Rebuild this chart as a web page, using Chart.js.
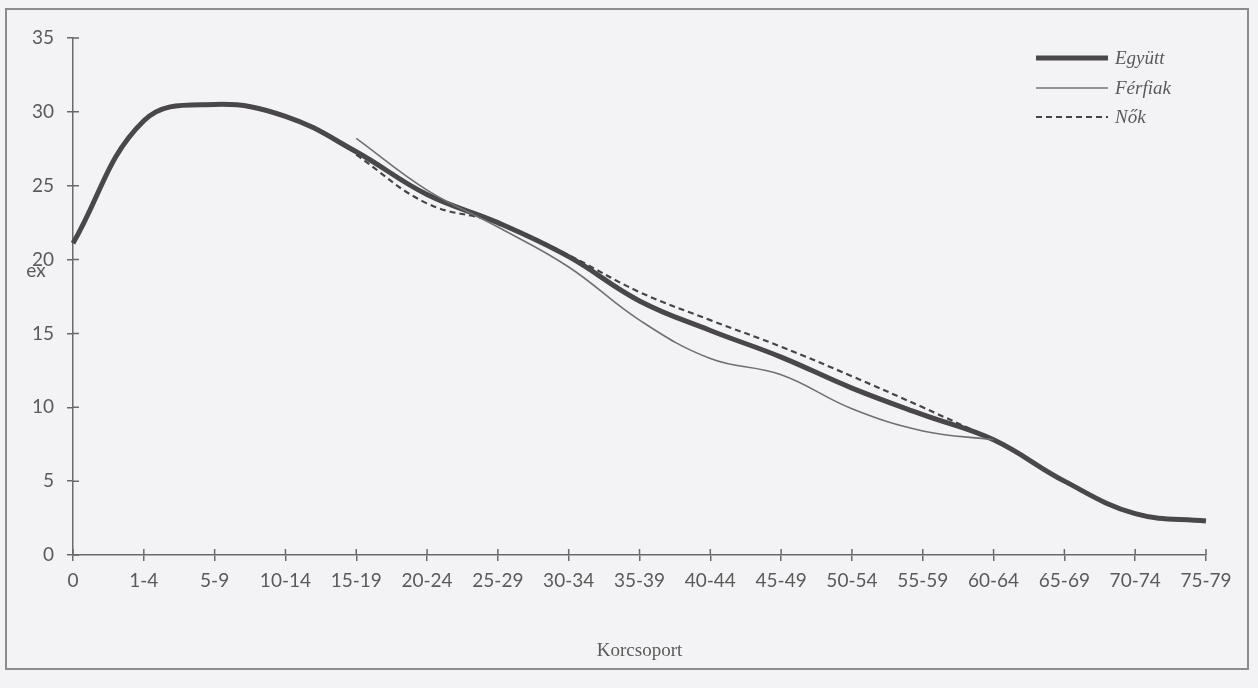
<!DOCTYPE html>
<html><head><meta charset="utf-8">
<script src="https://cdn.jsdelivr.net/npm/chart.js@4.4.1/dist/chart.umd.min.js"></script>
<style>
html,body{margin:0;padding:0;background:#f3f3f5;overflow:hidden;}
#wrap{position:absolute;left:0;top:0;width:1258px;height:688px;}
#frame{position:absolute;left:5px;top:8px;width:1240px;height:658px;border:2px solid #8c8c8c;pointer-events:none;}
canvas{position:absolute;left:0;top:0;}
</style></head><body>
<div id="wrap"><canvas id="c" width="1258" height="688"></canvas><div id="frame"></div></div>
<script>
const categories = ['0','1-4','5-9','10-14','15-19','20-24','25-29','30-34','35-39','40-44','45-49','50-54','55-59','60-64','65-69','70-74','75-79'];
const egyutt  = [21.1, 29.4, 30.5, 29.7, 27.3, 24.4, 22.5, 20.2, 17.2, 15.2, 13.4, 11.3, 9.5, 7.8, 5.0, 2.8, 2.3];
const ferfiak = [null, null, null, null, 28.2, 24.7, 22.2, 19.5, 15.9, 13.3, 12.2, 9.9, 8.4, 7.8, null, null, null];
const nok     = [null, null, null, null, 27.1, 23.8, 22.5, 20.3, 17.8, 15.9, 14.1, 12.1, 10.0, 7.8, null, null, null];
const seriesNames = ['Együtt', 'Férfiak', 'Nők'];
const yMin = 0, yMax = 35, yStep = 5;
const yLabel = 'ex';
const xLabel = 'Korcsoport';

const axisColor = '#6a6a6a';
const textColor = '#5a5a5a';

const crossTicks = {
  id: 'crossTicks',
  afterDraw(chart) {
    const {ctx, scales: {x, y}, chartArea} = chart;
    ctx.save();
    ctx.strokeStyle = axisColor;
    ctx.lineWidth = 1.5;
    ctx.beginPath();
    y.ticks.forEach(t => {
      const py = y.getPixelForValue(t.value);
      ctx.moveTo(chartArea.left, py); ctx.lineTo(chartArea.left + 6, py);
    });
    x.ticks.forEach((t, i) => {
      const px = x.getPixelForTick(i);
      ctx.moveTo(px, chartArea.bottom); ctx.lineTo(px, chartArea.bottom - 6);
    });
    ctx.stroke();
    ctx.fillStyle = textColor;
    ctx.font = '19px Lato';
    ctx.textAlign = 'center';
    ctx.textBaseline = 'middle';
    ctx.fillText(yLabel, 36, 271);
    ctx.restore();
  }
};

const customLegend = {
  id: 'customLegend',
  afterDraw(chart) {
    const {ctx} = chart;
    ctx.save();
    const x0 = 1036, x1 = 1108, tx = 1115;
    const ys = [58, 88, 117];
    chart.data.datasets.forEach((ds, i) => {
      const yy = ys[i];
      ctx.strokeStyle = ds.borderColor;
      ctx.lineWidth = ds.borderWidth;
      ctx.setLineDash(ds.borderDash || []);
      ctx.lineCap = 'butt';
      ctx.beginPath(); ctx.moveTo(x0, yy); ctx.lineTo(x1, yy); ctx.stroke();
      ctx.setLineDash([]);
      ctx.fillStyle = textColor;
      ctx.font = 'italic 19px "Liberation Serif"';
      ctx.textAlign = 'left';
      ctx.textBaseline = 'middle';
      ctx.fillText(ds.label, tx, yy + 1);
    });
    ctx.restore();
  }
};

new Chart(document.getElementById('c'), {
  type: 'line',
  data: {
    labels: categories,
    datasets: [
      {label: seriesNames[0], data: egyutt, borderColor: '#4a474b', borderWidth: 5, tension: 0.4, pointRadius: 0, order: 3, clip: false},
      {label: seriesNames[1], data: ferfiak, borderColor: '#707070', borderWidth: 1.6, tension: 0.4, pointRadius: 0, order: 1, clip: false},
      {label: seriesNames[2], data: nok, borderColor: '#454545', borderWidth: 2.2, borderDash: [6, 4], tension: 0.4, pointRadius: 0, order: 2, clip: false}
    ]
  },
  options: {
    responsive: false,
    animation: false,
    devicePixelRatio: 1,
    layout: {padding: {left: 0, right: 52, top: 38, bottom: 0}},
    plugins: {legend: {display: false}, tooltip: {enabled: false}},
    scales: {
      x: {
        offset: false,
        afterFit(s) { s.height = 133; },
        grid: {display: true, drawOnChartArea: false, drawTicks: true, tickLength: 6, color: axisColor, lineWidth: 1.5},
        border: {display: true, color: axisColor, width: 1.5},
        ticks: {color: textColor, font: {family: 'Lato', size: 19}, padding: 8, maxRotation: 0, autoSkip: false},
        title: {display: true, text: xLabel, color: textColor, font: {family: 'Liberation Serif', size: 19}, padding: {top: 0, bottom: 26}}
      },
      y: {
        min: yMin, max: yMax,
        afterFit(s) { s.width = 73; },
        grid: {display: true, drawOnChartArea: false, drawTicks: true, tickLength: 6, color: axisColor, lineWidth: 1.5},
        border: {display: true, color: axisColor, width: 1.5},
        ticks: {stepSize: yStep, color: textColor, font: {family: 'Lato', size: 19}, padding: 13}
      }
    }
  },
  plugins: [crossTicks, customLegend]
});
</script>
</body></html>
